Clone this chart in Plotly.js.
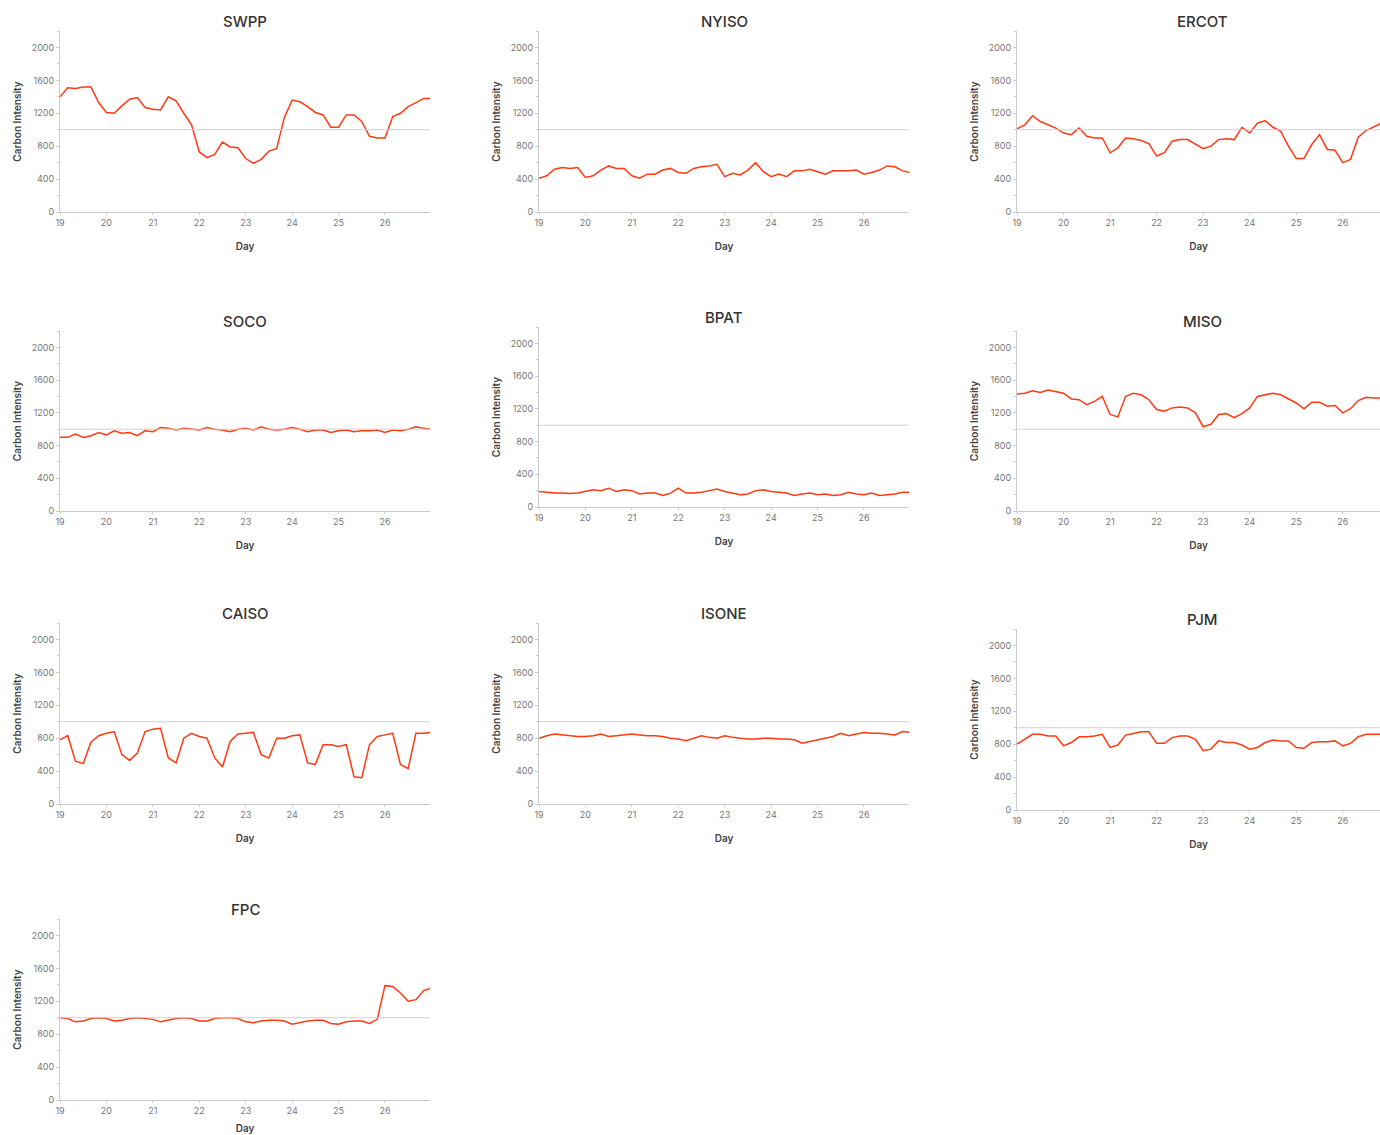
<!DOCTYPE html>
<html>
<head>
<meta charset="utf-8">
<script src="https://cdn.plot.ly/plotly-3.0.1.min.js"></script>
<style>body{margin:0;background:#fff}#plot{width:1380px;height:1135px}</style>
</head>
<body>
<div id="plot"></div>
<script>
// values every 4 hours, day 19.0 .. 27.0
const regions = ['SWPP', 'NYISO', 'ERCOT', 'SOCO', 'BPAT', 'MISO', 'CAISO', 'ISONE', 'PJM', 'FPC'];

const swpp = [1400,1510,1500,1520,1520,1330, 1210,1200,1290,1370,1390,1270, 1250,1240,1400,1350,1200,1060,
  730,660,700,850,790,780, 650,590,640,740,770,1150, 1360,1340,1280,1210,1180,1030,
  1030,1180,1180,1100,920,900, 900,1160,1200,1280,1330,1380, 1380];
const nyiso = [410,440,520,540,530,540, 420,440,510,560,530,530, 440,410,460,460,510,530,
  480,470,530,550,560,580, 430,470,450,510,600,490, 430,460,430,500,500,520,
  490,460,500,500,500,510, 460,480,510,560,550,500, 480];
const ercot = [1010,1060,1170,1100,1060,1020, 960,940,1020,920,900,900, 720,780,900,890,870,830,
  680,720,860,880,880,820, 770,800,880,890,880,1030, 960,1080,1110,1030,980,800,
  650,650,820,940,760,750, 600,640,910,990,1030,1080, 1090];
const soco = [900,900,940,900,920,960, 930,980,950,960,920,980, 970,1020,1010,990,1010,1000,
  990,1020,1000,990,970,1000, 1010,990,1030,1000,990,1000, 1020,1000,970,990,990,960,
  980,990,970,980,980,990, 960,990,980,1000,1030,1010, 1000];
const bpat = [190,180,170,170,165,170, 190,210,200,230,190,210, 200,160,170,170,140,170,
  230,170,170,180,200,220, 190,170,150,160,200,210, 190,180,170,140,160,170,
  150,160,140,150,180,160, 150,170,140,150,160,180, 180];
const miso = [1430,1440,1470,1450,1480,1460, 1440,1370,1360,1300,1340,1400, 1180,1150,1400,1440,1420,1360,
  1240,1220,1260,1270,1260,1200, 1030,1060,1180,1190,1140,1190, 1260,1400,1420,1440,1420,1370,
  1320,1250,1330,1330,1280,1290, 1200,1250,1350,1390,1380,1380, 1380];
const caiso = [780,830,520,490,750,830, 860,880,600,530,620,880, 910,920,560,500,800,860,
  820,800,560,450,760,850, 860,870,600,560,800,800, 830,840,500,480,720,720,
  700,720,330,320,720,820, 840,860,480,430,860,860, 870];
const isone = [800,830,850,840,830,820, 820,830,850,820,830,840, 850,840,830,830,820,800,
  790,770,800,830,810,800, 830,810,800,790,790,800, 800,790,790,780,740,760,
  780,800,820,860,830,850, 870,860,860,850,840,880, 870];
const pjm = [800,860,920,920,900,900, 780,820,890,890,900,920, 760,790,910,930,950,950,
  810,810,880,900,900,860, 720,740,840,820,820,790, 740,760,820,850,840,840,
  760,750,820,830,830,840, 780,810,890,920,920,920, 920];
const fpc = [1000,990,950,960,990,1000, 990,960,970,990,1000,990, 980,950,970,990,1000,990,
  960,960,990,1000,1000,990, 950,940,960,970,970,960, 920,940,960,970,970,930,
  920,950,960,960,930,980, 1390,1380,1300,1200,1220,1330, 1360];

const seriesList = [swpp, nyiso, ercot, soco, bpat, miso, caiso, isone, pjm, fpc];
const days = swpp.map((_, i) => 19 + i / 6);

// panel pixel boxes [left, right, top, bottom]
const boxes = [
  [60, 430, 31, 212], [539, 909, 31, 212], [1017, 1380, 31, 212],
  [60, 430, 331, 511], [539, 909, 327, 507], [1017, 1380, 331, 511],
  [60, 430, 623, 804], [539, 909, 623, 804], [1017, 1380, 629, 810],
  [60, 430, 919, 1100]
];
const W = 1380, H = 1135;
const font = 'Inter, "Open Sans", sans-serif';

const data = [];
const layout = {
  width: W, height: H, margin: {l: 0, r: 0, t: 0, b: 0},
  showlegend: false, paper_bgcolor: '#fff', plot_bgcolor: '#fff',
  font: {family: font, color: '#555'},
  annotations: [], shapes: []
};

regions.forEach((name, i) => {
  const n = i === 0 ? '' : String(i + 1);
  const [l, r, t, b] = boxes[i];
  const lastCol = i % 3 === 2;
  data.push({
    x: days, y: seriesList[i], xaxis: 'x' + n, yaxis: 'y' + n,
    type: 'scatter', mode: 'lines', line: {color: '#ff3a12', width: 1.5},
    hoverinfo: 'skip'
  });
  layout['xaxis' + n] = {
    domain: [l / W, r / W], anchor: 'y' + n,
    range: [19, lastCol ? 26.8 : 26.97],
    tickvals: [19, 20, 21, 22, 23, 24, 25, 26], ticks: 'outside', ticklen: 2, tickcolor: '#ccc',
    showgrid: false, zeroline: false, showline: true, linecolor: '#ccc',
    tickfont: {size: 9, color: '#777', family: font},
    title: {text: 'Day', font: {size: 10, color: '#444', family: font, weight: 600}, standoff: 16}
  };
  layout['yaxis' + n] = {
    domain: [1 - b / H, 1 - t / H], anchor: 'x' + n,
    range: [0, 2200], tickvals: [0, 400, 800, 1200, 1600, 2000],
    ticks: 'outside', ticklen: 3, tickcolor: '#ccc',
    minor: {dtick: 200, ticks: 'outside', ticklen: 2, tickcolor: '#ccc', showgrid: false},
    showgrid: false, zeroline: false, showline: true, linecolor: '#ccc',
    tickfont: {size: 9, color: '#777', family: font},
    title: {text: 'Carbon Intensity', font: {size: 10, color: '#444', family: font, weight: 600}, standoff: 8}
  };
  layout.shapes.push({
    type: 'line', xref: 'x' + n + ' domain', yref: 'y' + n,
    x0: 0, x1: 1, y0: 1000, y1: 1000, line: {color: '#d0d0d0', width: 1}
  });
  const cx = lastCol ? 1202 : (l + 185);
  layout.annotations.push({
    text: name, xref: 'paper', yref: 'paper', x: cx / W, y: 1 - (t - 10) / H,
    xanchor: 'center', yanchor: 'middle', showarrow: false,
    font: {size: 15, color: '#333', family: font, weight: 500}
  });
});

Plotly.newPlot('plot', data, layout, {displayModeBar: false, staticPlot: true});
</script>
</body>
</html>
